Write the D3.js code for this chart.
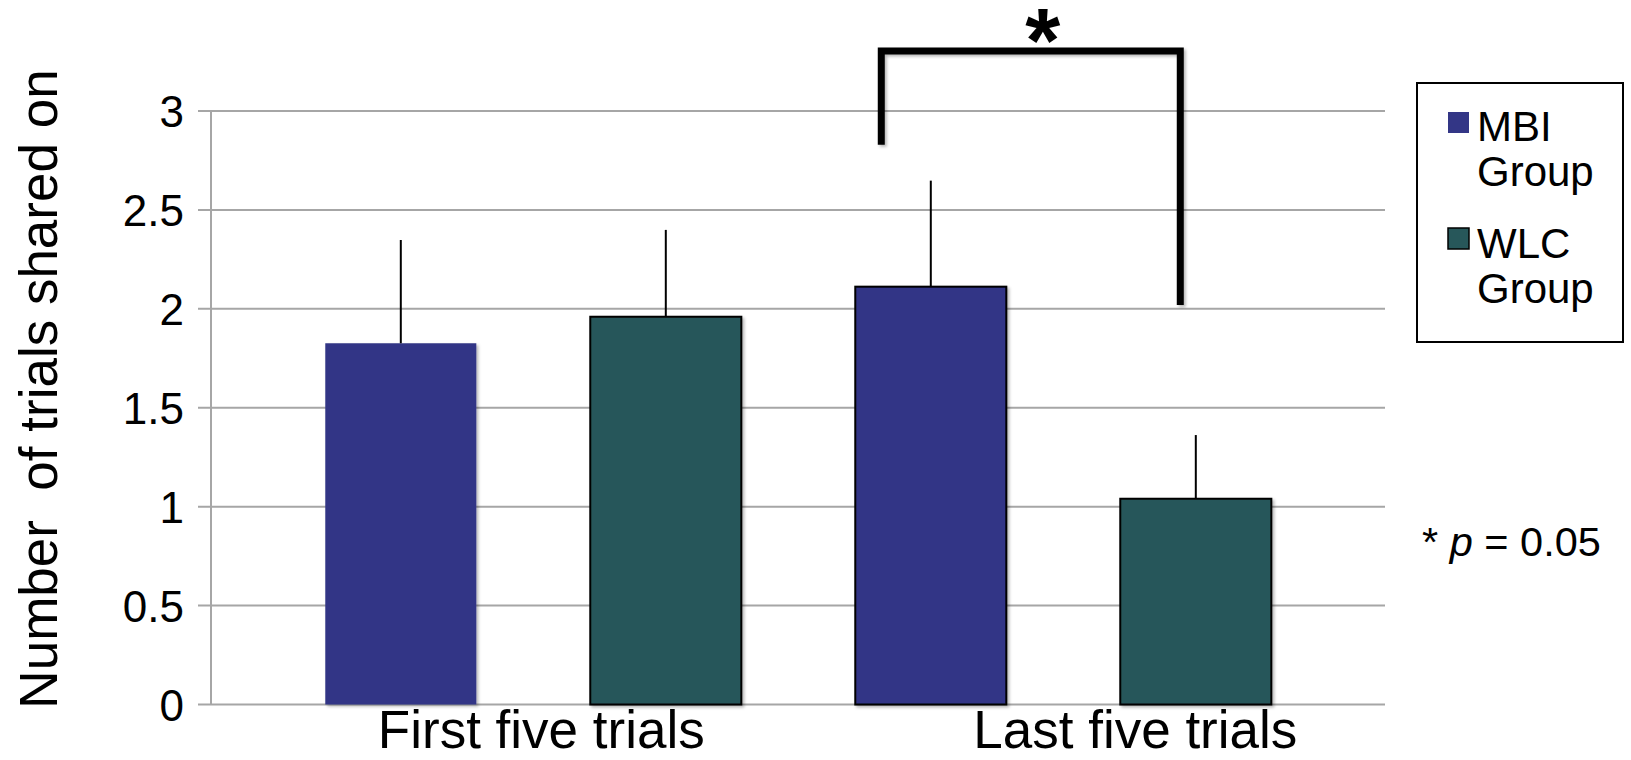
<!DOCTYPE html>
<html>
<head>
<meta charset="utf-8">
<script src="https://cdn.jsdelivr.net/npm/d3@7"></script>
<style>
  html, body { margin: 0; padding: 0; background: #fff; }
  svg { display: block; font-family: "Liberation Sans", Arial, sans-serif; }
</style>
</head>
<body>
<svg id="chart" width="1631" height="760"></svg>
<script>
// Mean number of trials shared on, by block and group
const categories = ["First five trials", "Last five trials"];
const groups = ["MBI Group", "WLC Group"];
const mbiMeans = [1.826, 2.112];
const wlcMeans = [1.960, 1.040];
const mbiErrors = [0.522, 0.536];
const wlcErrors = [0.439, 0.322];
const yTicks = [0, 0.5, 1, 1.5, 2, 2.5, 3];
const yTitle = "Number  of trials shared on";
const sigLabel = "*";
const noteText = ["* ", "p", " = 0.05"];

const colors = { "MBI Group": "#333686", "WLC Group": "#27575A" };

const svg = d3.select("#chart");

const defs = svg.append("defs");
defs.append("filter").attr("id", "shadow")
  .attr("x", "-10%").attr("y", "-10%").attr("width", "130%").attr("height", "130%")
  .append("feDropShadow")
  .attr("dx", 2).attr("dy", 2).attr("stdDeviation", 1.6)
  .attr("flood-color", "#000").attr("flood-opacity", 0.28);

// Scales
const y = d3.scaleLinear().domain([0, 3]).range([704.5, 111]);
const frameLeft = 211, frameRight = 1385;
const x0 = d3.scaleBand().domain(categories).range([268.3, 1328.3]);
const x1 = d3.scaleBand().domain(groups).range([0, x0.bandwidth()])
  .paddingInner(0.43).paddingOuter(0.215);

// Gridlines
const grid = svg.append("g");
grid.selectAll("line").data(yTicks).join("line")
  .attr("x1", frameLeft - 13).attr("x2", frameRight)
  .attr("y1", d => y(d)).attr("y2", d => y(d))
  .attr("stroke", "#a6a6a6").attr("stroke-width", 2);

// Vertical axis line
svg.append("line")
  .attr("x1", frameLeft).attr("x2", frameLeft)
  .attr("y1", y(3)).attr("y2", y(0))
  .attr("stroke", "#a6a6a6").attr("stroke-width", 2);

// Tick labels
svg.append("g").selectAll("text").data(yTicks).join("text")
  .attr("x", 184).attr("y", d => y(d) + 16)
  .attr("text-anchor", "end")
  .attr("font-size", 44).attr("fill", "#000")
  .text(d => d3.format("")(d));

// Y title
svg.append("text")
  .attr("transform", "translate(57,389) rotate(-90)")
  .attr("text-anchor", "middle")
  .attr("font-size", 53).attr("fill", "#000")
  .attr("xml:space", "preserve")
  .text(yTitle);

// Bars
const rows = [];
categories.forEach((c, i) => {
  rows.push({ cat: c, grp: groups[0], mean: mbiMeans[i], err: mbiErrors[i], idx: rows.length });
  rows.push({ cat: c, grp: groups[1], mean: wlcMeans[i], err: wlcErrors[i], idx: rows.length });
});

const bars = svg.append("g");
bars.selectAll("rect").data(rows).join("rect")
  .attr("x", d => x0(d.cat) + x1(d.grp))
  .attr("y", d => y(d.mean))
  .attr("width", x1.bandwidth())
  .attr("height", d => y(0) - y(d.mean))
  .attr("fill", d => colors[d.grp])
  .attr("stroke", d => d.idx === 0 ? "none" : "#000")
  .attr("stroke-width", 2)
  .attr("filter", "url(#shadow)");

// Upper error bars
bars.selectAll("line").data(rows).join("line")
  .attr("x1", d => x0(d.cat) + x1(d.grp) + x1.bandwidth() / 2)
  .attr("x2", d => x0(d.cat) + x1(d.grp) + x1.bandwidth() / 2)
  .attr("y1", d => y(d.mean))
  .attr("y2", d => y(d.mean + d.err))
  .attr("stroke", "#000").attr("stroke-width", 2);

// Category labels
const labelShift = [8, 72];
svg.append("g").selectAll("text").data(categories).join("text")
  .attr("x", (d, i) => x0(d) + x0.bandwidth() / 2 + labelShift[i])
  .attr("y", 748)
  .attr("text-anchor", "middle")
  .attr("font-size", 53).attr("fill", "#000")
  .text(d => d);

// Significance bracket between the last-block groups
const bLeft = x0(categories[1]) + x1(groups[0]) + 26;
const bRight = x0(categories[1]) + x1(groups[1]) + 60;
const bTop = 3.303, bLeftEnd = 2.83, bRightEnd = 2.02;
svg.append("path")
  .attr("d", `M${bLeft},${y(bLeftEnd)} V${y(bTop)} H${bRight} V${y(bRightEnd)}`)
  .attr("fill", "none").attr("stroke", "#000").attr("stroke-width", 7)
  .attr("stroke-linejoin", "miter")
  .attr("filter", "url(#shadow)");
svg.append("text")
  .attr("x", (bLeft + bRight) / 2 + 12).attr("y", 72)
  .attr("text-anchor", "middle")
  .attr("font-size", 90).attr("font-weight", "bold").attr("fill", "#000")
  .text(sigLabel);

// Legend
const legend = svg.append("g");
legend.append("rect")
  .attr("x", 1417).attr("y", 83).attr("width", 206).attr("height", 259)
  .attr("fill", "#fff").attr("stroke", "#000").attr("stroke-width", 2);
const legendRows = [
  { grp: groups[0], sy: 112, lines: ["MBI", "Group"], base: 141, stroke: "none" },
  { grp: groups[1], sy: 228, lines: ["WLC", "Group"], base: 258, stroke: "#000" }
];
legendRows.forEach(r => {
  legend.append("rect")
    .attr("x", 1448).attr("y", r.sy).attr("width", 21).attr("height", 21)
    .attr("fill", colors[r.grp]).attr("stroke", r.stroke).attr("stroke-width", 1.5);
  r.lines.forEach((t, j) => {
    legend.append("text")
      .attr("x", 1477).attr("y", r.base + j * 45)
      .attr("font-size", 42).attr("fill", "#000")
      .text(t);
  });
});

// Significance note
const note = svg.append("text")
  .attr("x", 1422).attr("y", 556)
  .attr("font-size", 41.5).attr("fill", "#000")
  .attr("xml:space", "preserve");
note.append("tspan").text(noteText[0]);
note.append("tspan").attr("font-style", "italic").text(noteText[1]);
note.append("tspan").text(noteText[2]);
</script>
</body>
</html>
